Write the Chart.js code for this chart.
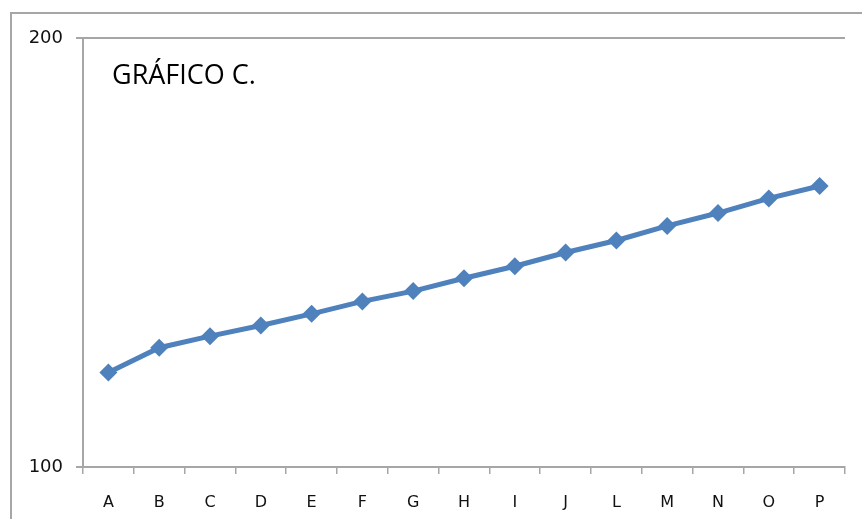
<!DOCTYPE html>
<html>
<head>
<meta charset="utf-8">
<script src="https://cdn.jsdelivr.net/npm/chart.js@4.4.0/dist/chart.umd.min.js"></script>
<style>
  html, body { margin: 0; padding: 0; background: #fff; }
  #wrap { width: 862px; height: 519px; position: relative; }
</style>
</head>
<body>
<div id="wrap"><canvas id="chart" width="862" height="519"></canvas></div>
<script>
const categories = ['A', 'B', 'C', 'D', 'E', 'F', 'G', 'H', 'I', 'J', 'L', 'M', 'N', 'O', 'P'];
const values = [122, 127.8, 130.5, 133, 135.7, 138.6, 141, 144, 146.8, 150, 152.8, 156.2, 159.2, 162.6, 165.5];
const yTicks = [100, 200];
const chartLabel = 'GRÁFICO C.';

const blue = '#4f81bd';
const gray = '#a6a6a6';

// marco exterior y texto del grafico
const decor = {
    id: 'decor',
    beforeDraw(chart) {
        const ctx = chart.ctx;
        ctx.save();
        ctx.fillStyle = '#fff';
        ctx.fillRect(0, 0, chart.width, chart.height);
        ctx.strokeStyle = gray;
        ctx.lineWidth = 2;
        ctx.strokeRect(11, 13, 1000, 1000);
        ctx.restore();
    },
    afterDraw(chart) {
        const ctx = chart.ctx;
        ctx.save();
        ctx.fillStyle = '#000';
        ctx.font = '27px "Open Sans"';
        ctx.textBaseline = 'alphabetic';
        ctx.fillText(chartLabel, 112, 84);
        ctx.restore();
    }
};

new Chart(document.getElementById('chart'), {
    type: 'line',
    data: {
        labels: categories,
        datasets: [{
            data: values,
            borderColor: blue,
            backgroundColor: blue,
            borderWidth: 5,
            tension: 0,
            pointStyle: 'rectRot',
            pointRadius: 9,
            pointBorderWidth: 0,
            pointBackgroundColor: blue
        }]
    },
    options: {
        responsive: false,
        animation: false,
        layout: { padding: { top: 38, right: 17, left: 0, bottom: 0 } },
        plugins: { legend: { display: false }, tooltip: { enabled: false } },
        scales: {
            x: {
                offset: true,
                grid: { offset: true, drawOnChartArea: false, color: gray, tickLength: 7, lineWidth: 1.5 },
                border: { color: gray, width: 2 },
                ticks: { color: '#111', font: { family: 'DejaVu Sans', size: 16 }, padding: 19, maxRotation: 0 },
                afterFit(scale) { scale.height = 52; }
            },
            y: {
                min: 100,
                max: 200,
                afterBuildTicks(scale) { scale.ticks = yTicks.map(v => ({ value: v })); },
                grid: { color: gray, tickLength: 7, lineWidth: 2 },
                border: { color: gray, width: 2 },
                ticks: { color: '#111', font: { family: 'DejaVu Sans', size: 18 }, padding: 13 },
                afterFit(scale) { scale.width = 83; }
            }
        }
    },
    plugins: [decor]
});
</script>
</body>
</html>
